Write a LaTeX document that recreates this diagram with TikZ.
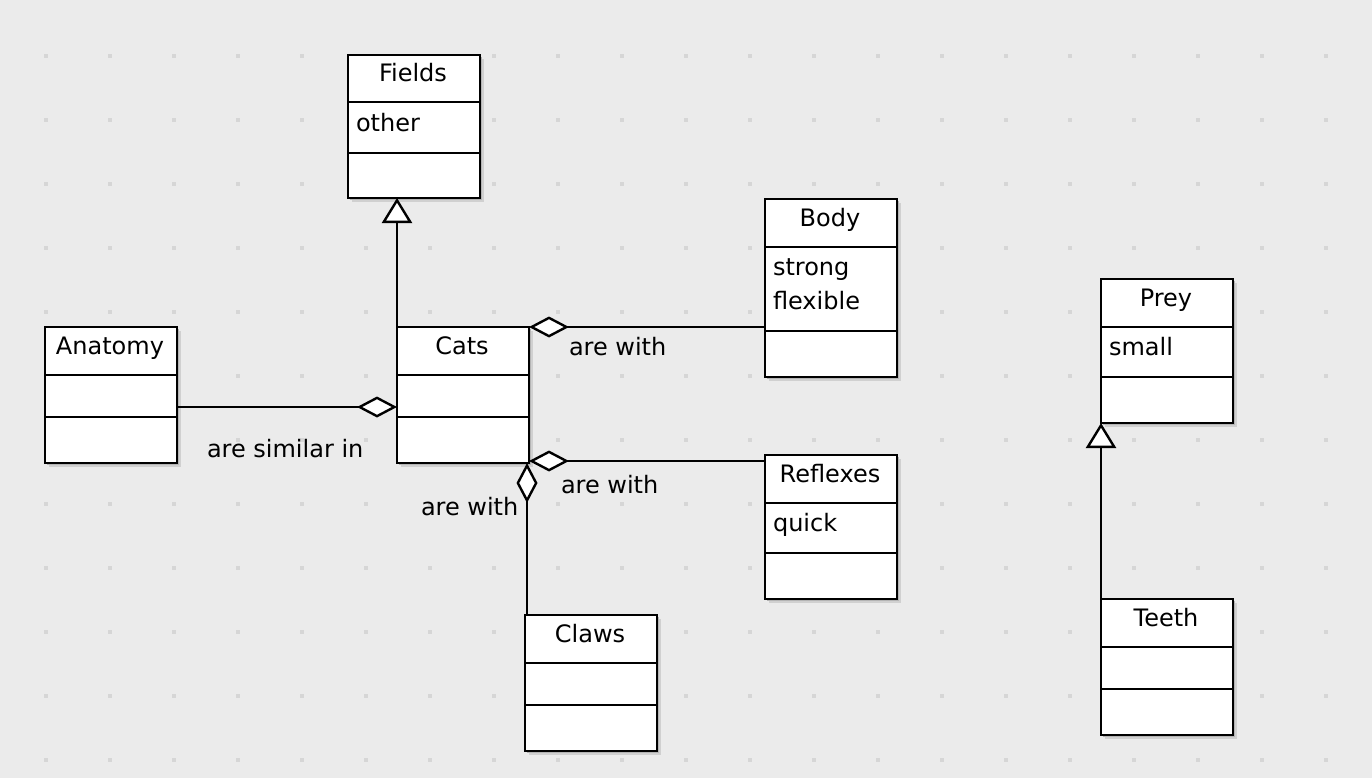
\documentclass[tikz,border=0pt]{standalone}
\usepackage{fontspec}
\setmainfont{DejaVu Sans}
\usetikzlibrary{arrows.meta}
\definecolor{bg}{HTML}{EBEBEB}
\definecolor{dotc}{HTML}{D6D6D6}
\definecolor{shadowA}{HTML}{D0D0D0}
\definecolor{shadowB}{HTML}{B4B4B4}
\tikzset{
  classbox/.style={draw=black, fill=white, line width=2.5pt, inner sep=0pt, outer sep=0pt,
    minimum width=132pt, anchor=north west},
  divline/.style={line width=2.4pt},
  txt/.style={inner sep=0pt, outer sep=0pt, font=\fontsize{24}{28}\selectfont},
  titletext/.style={txt, anchor=base},
  attrtext/.style={txt, anchor=base west},
  labeltext/.style={txt, anchor=base west},
  conn/.style={line width=2.4pt},
  aggr/.style={conn, -{Diamond[fill=white, length=40pt, width=21pt]}},
  gen/.style={conn, -{Triangle[fill=white, length=25pt, width=30pt]}},
}
\newcommand\umlclass[7]{%
  \fill[shadowA] (#2+4,#3+4) rectangle ++(132,#4);
  \fill[shadowB] (#2+2,#3+2) rectangle ++(132,#4);
  \node[classbox, minimum height=#4pt] (#1) at (#2,#3) {};
  \draw[divline] ([yshift=-#5pt]#1.north west) -- ([yshift=-#5pt]#1.north east);
  \draw[divline] ([yshift=-#6pt]#1.north west) -- ([yshift=-#6pt]#1.north east);
  \node[titletext] (#1-title) at ([yshift=-27pt,xshift=-1pt]#1.north) {#7};
}
\begin{document}
\begin{tikzpicture}[x=1pt, y=-1pt]
  \useasboundingbox (0,0) rectangle (1372,778);
  \fill[bg] (0,0) rectangle (1372,778);
  \foreach \i in {0,...,20} {
    \foreach \j in {0,...,11} {
      \fill[dotc] (44+64*\i,54+64*\j) rectangle ++(4,4);
    }
  }
  % classes
  \umlclass{fields}{348}{55}{143}{47}{98}{Fields}
  \node[attrtext] (fields-a1) at ([xshift=8pt,yshift=-77pt]fields.north west) {other};

  \umlclass{body}{765}{199}{178}{48}{132}{Body}
  \node[attrtext] (body-a1) at ([xshift=8pt,yshift=-76pt]body.north west) {strong};
  \node[attrtext] (body-a2) at ([xshift=8pt,yshift=-110pt]body.north west) {flexible};

  \umlclass{anatomy}{45}{327}{136}{48}{90}{Anatomy}
  \umlclass{cats}{397}{327}{136}{48}{90}{Cats}

  \umlclass{prey}{1101}{279}{144}{48}{98}{Prey}
  \node[attrtext] (prey-a1) at ([xshift=8pt,yshift=-76pt]prey.north west) {small};

  \umlclass{reflexes}{765}{455}{144}{48}{98}{Reflexes}
  \node[attrtext] (reflexes-a1) at ([xshift=8pt,yshift=-76pt]reflexes.north west) {quick};

  \umlclass{claws}{525}{615}{136}{48}{90}{Claws}
  \umlclass{teeth}{1101}{599}{136}{48}{90}{Teeth}

  % connectors
  \draw[gen] (cats.north west) -- (cats.north west |- fields.south);
  \draw[gen] (teeth.north west) -- (teeth.north west |- prey.south);
  \draw[aggr] ([yshift=-12pt]anatomy.east) -- ([yshift=-12pt]anatomy.east -| cats.west);
  \draw[aggr] (body.west |- cats.north) -- (cats.north east);
  \draw[aggr] ([yshift=-6pt]reflexes.north west) -- ([yshift=-6pt]reflexes.north west -| cats.east);
  \draw[aggr] ([xshift=2pt]claws.north west) -- ([xshift=2pt]claws.north west |- cats.south);

  % labels
  \node[labeltext] (lab-body) at (569,355) {are with};
  \node[labeltext] (lab-anatomy) at (207,457) {are similar in};
  \node[labeltext] (lab-reflexes) at (561,493) {are with};
  \node[labeltext] (lab-claws) at (421,515) {are with};
\end{tikzpicture}
\end{document}
